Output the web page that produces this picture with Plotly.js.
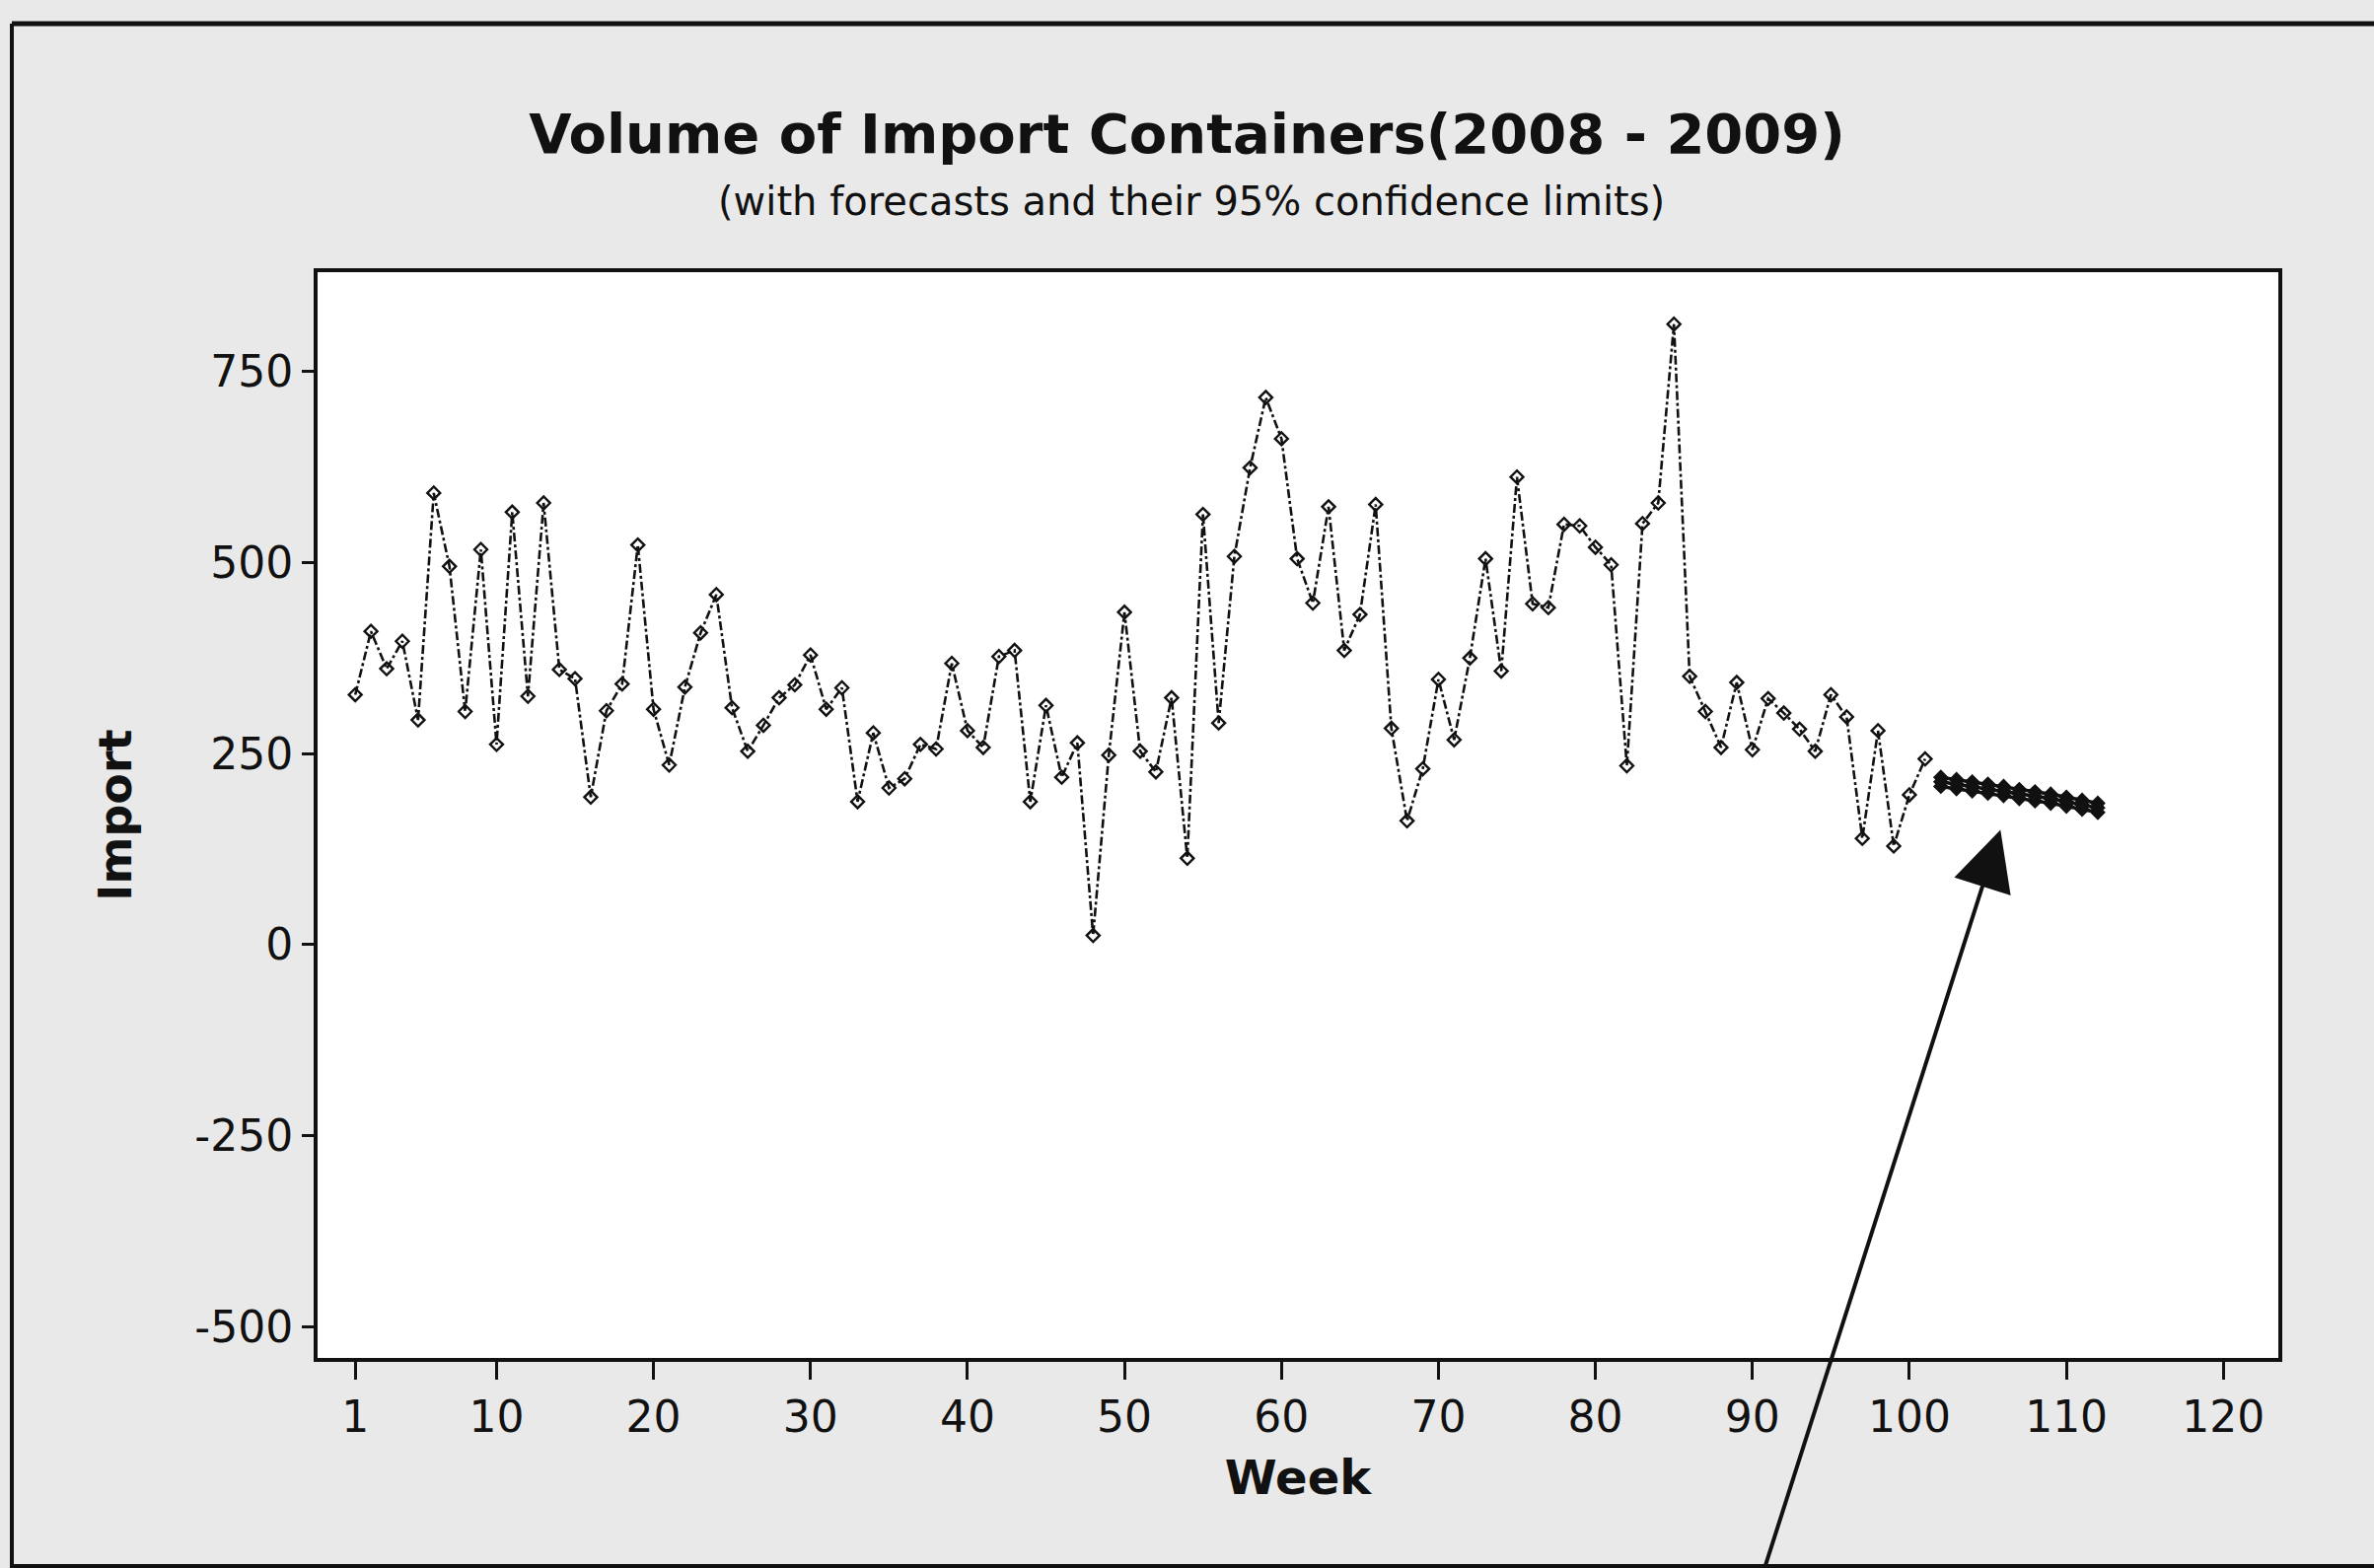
<!DOCTYPE html>
<html>
<head>
<meta charset="utf-8">
<script src="https://cdn.plot.ly/plotly-3.0.1.min.js"></script>
<style>html,body{margin:0;padding:0;background:#e9e9e9;}</style>
</head>
<body>
<div id="chart" style="width:2407px;height:1590px;"></div>
<script>
// Observed weekly import volume (weeks 1-101)
const weeks = [];
for (let i = 1; i <= 101; i++) weeks.push(i);
const imports = [
  327, 410, 361, 397, 294, 591, 495, 305, 517, 262,
  566, 325, 578, 360, 348, 193, 306, 341, 523, 308,
  235, 337, 408, 458, 310, 253, 287, 323, 340, 379,
  308, 336, 187, 277, 205, 217, 262, 256, 368, 280,
  258, 377, 385, 187, 313, 219, 264, 12, 248, 435,
  253, 226, 323, 113, 563, 290, 508, 624, 716, 662,
  505, 447, 573, 385, 432, 576, 283, 162, 230, 347,
  268, 375, 505, 358, 612, 446, 441, 550, 548, 520,
  497, 234, 551, 578, 812, 351, 305, 258, 343, 255,
  322, 303, 282, 253, 327, 298, 139, 280, 129, 196,
  243
];
// Forecast horizon (weeks 102-112) with 95% limits
const fcWeeks = [102, 103, 104, 105, 106, 107, 108, 109, 110, 111, 112];
const forecast = [213, 210, 207, 204, 201, 197, 194, 191, 187, 183, 179];
const lower95  = [207, 204, 201, 198, 195, 191, 188, 185, 181, 177, 173];
const upper95  = [219, 216, 213, 210, 207, 203, 200, 197, 193, 189, 185];

const xTicks = [1, 10, 20, 30, 40, 50, 60, 70, 80, 90, 100, 110, 120];
const yTicks = [-500, -250, 0, 250, 500, 750];

const FONT = '"DejaVu Sans", "Liberation Sans", sans-serif';
const lineStyle = {color: '#111', width: 2.6, dash: 'dashdot'};
const markStyle = {symbol: 'diamond-open', size: 10, color: '#111', line: {width: 2.4, color: '#111'}};
const fcLine = {color: '#111', width: 3.5};
const fcMark = {symbol: 'diamond', size: 10, color: '#111', line: {width: 2, color: '#111'}};

const traces = [
  {x: weeks, y: imports, type: 'scatter', mode: 'lines+markers', line: lineStyle, marker: markStyle, name: 'Import'},
  {x: fcWeeks, y: upper95, type: 'scatter', mode: 'lines+markers', line: fcLine, marker: fcMark, name: 'Upper'},
  {x: fcWeeks, y: lower95, type: 'scatter', mode: 'lines+markers', line: fcLine, marker: fcMark, name: 'Lower'},
  {x: fcWeeks, y: forecast, type: 'scatter', mode: 'lines+markers', line: fcLine, marker: fcMark, name: 'Forecast'}
];

const layout = {
  width: 2407, height: 1590,
  paper_bgcolor: '#e9e9e9',
  plot_bgcolor: '#ffffff',
  showlegend: false,
  margin: {l: 322, r: 97, t: 276, b: 213, pad: 0},
  font: {family: FONT, color: '#111', size: 44},
  title: {
    text: '<b>Volume of Import Containers(2008 - 2009)</b>',
    font: {family: FONT, size: 56, color: '#111'},
    x: 0.5, xref: 'container', xanchor: 'center',
    y: 1 - 135 / 1590, yref: 'container', yanchor: 'middle'
  },
  xaxis: {
    range: [-1.4, 123.5],
    tickvals: xTicks, ticktext: xTicks.map(String),
    ticks: 'outside', ticklen: 18, tickwidth: 3, tickcolor: '#111',
    showline: true, linewidth: 4, linecolor: '#111', mirror: true,
    showgrid: false, zeroline: false,
    tickfont: {family: FONT, size: 44, color: '#111'},
    title: {text: '<b>Week</b>', font: {family: FONT, size: 48, color: '#111'}, standoff: 22}
  },
  yaxis: {
    range: [-541, 880],
    tickvals: yTicks, ticktext: yTicks.map(String),
    ticks: 'outside', ticklen: 12, tickwidth: 3, tickcolor: '#111',
    showline: true, linewidth: 4, linecolor: '#111', mirror: true,
    showgrid: false, zeroline: false,
    tickfont: {family: FONT, size: 44, color: '#111'},
    title: {text: '<b>Import</b>', font: {family: FONT, size: 46, color: '#111'}, standoff: 50}
  },
  annotations: [
    {
      text: '(with forecasts and their 95% confidence limits)',
      xref: 'paper', yref: 'paper', x: (1208 - 322) / 1988, y: (1377 - 204) / 1101,
      xanchor: 'center', yanchor: 'middle', showarrow: false,
      font: {family: FONT, size: 40, color: '#111'}
    },
    {
      text: '', x: 105.8, y: 150, xref: 'x', yref: 'y',
      showarrow: true, arrowhead: 2, arrowwidth: 4, arrowsize: 3, arrowcolor: '#111',
      ax: -239, ay: 748, axref: 'pixel', ayref: 'pixel', standoff: 0
    }
  ],
  shapes: [
    {type: 'line', xref: 'paper', yref: 'paper', x0: (12 - 322) / 1988, x1: (2407 - 322) / 1988, y0: (1377 - 24) / 1101, y1: (1377 - 24) / 1101, line: {color: '#111', width: 5}},
    {type: 'line', xref: 'paper', yref: 'paper', x0: (12 - 322) / 1988, x1: (12 - 322) / 1988, y0: (1377 - 24) / 1101, y1: (1377 - 1590) / 1101, line: {color: '#111', width: 4}},
    {type: 'line', xref: 'paper', yref: 'paper', x0: (12 - 322) / 1988, x1: (2407 - 322) / 1988, y0: (1377 - 1588) / 1101, y1: (1377 - 1588) / 1101, line: {color: '#111', width: 4}}
  ]
};

Plotly.newPlot('chart', traces, layout, {displayModeBar: false, staticPlot: true});
</script>
</body>
</html>
